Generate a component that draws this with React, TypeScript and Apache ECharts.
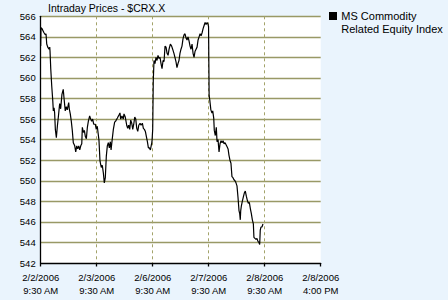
import React, { useEffect, useRef } from "react";
import * as echarts from "echarts";

// trading minutes since 2/2/2006 9:30 AM (390 minutes per trading day)
const minutes = [
  0, 2, 9, 16, 23, 32, 37, 42, 49, 58, 63, 65, 70, 77, 84, 88, 93, 97, 102, 109,
  116, 125, 132, 139, 148, 157, 162, 171, 178, 185, 195, 199, 206, 213, 220, 227,
  237, 244, 251, 258, 265, 272, 279, 286, 290, 297, 304, 311, 318, 325, 332, 341,
  348, 355, 362, 369, 380, 387, 394, 401, 406, 413, 422, 429, 436, 443, 450, 457,
  464, 471, 478, 485, 490, 497, 506, 515, 522, 534, 545, 552, 557, 566, 575, 580,
  589, 599, 606, 613, 620, 627, 634, 641, 648, 655, 662, 669, 676, 683, 692, 699,
  708, 715, 722, 729, 736, 743, 750, 757, 764, 768, 775, 780, 784, 789, 796, 803,
  810, 817, 824, 831, 838, 845, 852, 859, 866, 873, 880, 887, 894, 903, 912, 919,
  928, 935, 942, 949, 956, 963, 970, 977, 984, 991, 998, 1005, 1012, 1019, 1026,
  1033, 1040, 1047, 1054, 1061, 1068, 1075, 1082, 1089, 1096, 1103, 1110, 1117,
  1124, 1131, 1138, 1145, 1152, 1159, 1166, 1169, 1171, 1173, 1178, 1185, 1193,
  1198, 1205, 1209, 1216, 1223, 1228, 1235, 1242, 1249, 1256, 1263, 1270, 1277,
  1284, 1291, 1298, 1305, 1311, 1318, 1325, 1332, 1339, 1346, 1353, 1360, 1367,
  1374, 1381, 1386, 1390, 1393, 1397, 1404, 1411, 1418, 1425, 1432, 1439, 1446,
  1453, 1460, 1467, 1474, 1481, 1485, 1492, 1499, 1506, 1513, 1520, 1525, 1529,
  1534, 1541, 1548,
];

const prices = [
  563.1, 564.9, 564.8, 564.6, 564.4, 564.2, 564.3, 563.3, 563.0, 562.8, 563.0, 562.6,
  560.9, 559.2, 557.8, 556.8, 557.1, 556.6, 555.0, 554.2, 555.3, 556.5, 557.5, 557.0,
  558.4, 558.9, 558.1, 556.8, 557.2, 556.9, 557.6, 557.0, 556.5, 555.8, 554.9, 553.7,
  553.4, 552.8, 553.4, 553.1, 553.4, 553.0, 553.4, 553.6, 555.2, 554.7, 554.9, 554.3,
  554.1, 555.2, 555.8, 556.3, 556.0, 555.8, 556.0, 555.5, 555.5, 555.0, 555.3, 554.5,
  553.9, 551.9, 551.3, 551.5, 550.8, 549.8, 550.3, 552.4, 553.4, 553.7, 553.2, 553.8,
  553.0, 553.9, 555.0, 555.7, 555.8, 556.1, 556.4, 556.6, 556.0, 556.3, 556.0, 556.5,
  556.2, 555.4, 555.1, 555.4, 555.0, 555.9, 555.6, 555.0, 555.5, 556.2, 556.0, 555.1,
  554.8, 555.4, 555.6, 555.4, 555.6, 555.1, 555.0, 554.8, 554.3, 553.8, 553.2, 553.2,
  553.0, 553.0, 553.8, 555.0, 559.7, 561.7, 561.4, 562.0, 561.7, 562.2, 561.9, 562.0,
  561.4, 560.9, 561.7, 561.6, 563.1, 563.0, 562.4, 562.2, 562.8, 563.3, 563.1, 562.8,
  562.4, 562.0, 561.6, 561.0, 561.4, 561.7, 562.4, 562.8, 563.1, 563.8, 564.2, 564.3,
  563.9, 563.7, 564.0, 563.6, 563.1, 562.8, 563.3, 562.4, 562.0, 562.6, 562.8, 563.0,
  563.7, 564.0, 564.3, 564.1, 564.4, 564.8, 565.1, 565.4, 565.2, 565.4, 565.2, 565.0,
  561.5, 558.3, 557.8, 556.9, 556.6, 556.8, 556.1, 554.9, 554.4, 555.2, 553.8, 554.0,
  552.8, 553.6, 553.9, 553.7, 553.9, 553.6, 553.7, 553.5, 553.3, 553.1, 552.5, 552.0,
  551.7, 550.4, 550.3, 550.1, 550.0, 549.8, 549.5, 548.4, 547.1, 546.8, 546.2, 547.1,
  547.5, 548.0, 548.4, 548.8, 549.0, 548.5, 548.1, 547.8, 547.9, 547.3, 546.8, 546.2,
  545.8, 544.5, 544.4, 544.3, 544.4, 544.1, 544.0, 543.8, 545.2, 545.5, 545.5, 545.8,
];

const tickLabels = [
  "2/2/2006\n9:30 AM",
  "2/3/2006\n9:30 AM",
  "2/6/2006\n9:30 AM",
  "2/7/2006\n9:30 AM",
  "2/8/2006\n9:30 AM",
  "2/8/2006\n4:00 PM",
];

const title = "Intraday Prices - $CRX.X";
const seriesName = "MS Commodity\nRelated Equity Index";

const DAY = 390;
const FONT = "'Liberation Sans', Arial, sans-serif";

export default function App() {
  const ref = useRef<HTMLDivElement>(null);

  useEffect(() => {
    if (!ref.current) return;
    const chart = echarts.init(ref.current, null, { renderer: "svg" });
    const data = minutes.map((m, i) => [m, prices[i]]);
    chart.setOption({
      animation: false,
      backgroundColor: "#EAF4FD",
      textStyle: { fontFamily: FONT },
      grid: {
        left: 40.7,
        top: 16.3,
        right: 127.3,
        bottom: 37,
        show: true,
        backgroundColor: "#FFFFFF",
        borderWidth: 0,
      },
      xAxis: {
        type: "value",
        min: 0,
        max: DAY * 5,
        interval: DAY,
        axisLine: { show: true, onZero: false, lineStyle: { color: "#000000", width: 1.3 } },
        axisTick: { show: true, length: 3.5, lineStyle: { color: "#000000", width: 1.3 } },
        axisLabel: {
          color: "#000000",
          fontFamily: FONT,
          fontSize: 9.5,
          lineHeight: 13.3,
          margin: 8,
          showMinLabel: true,
          showMaxLabel: true,
          formatter: (v: number) => tickLabels[Math.round(v / DAY)] ?? "",
        },
        splitLine: {
          show: true,
          showMinLine: false,
          showMaxLine: false,
          lineStyle: { color: "#A3A36A", type: [3, 3], width: 1 },
        },
      },
      yAxis: {
        type: "value",
        min: 542,
        max: 566,
        interval: 2,
        axisLine: { show: true, lineStyle: { color: "#000000", width: 1.3 } },
        axisTick: { show: false },
        axisLabel: {
          color: "#000000",
          fontFamily: FONT,
          fontSize: 9.5,
          margin: 5,
        },
        splitLine: {
          show: true,
          showMinLine: false,
          showMaxLine: true,
          lineStyle: { color: "#999966", width: 1.3 },
        },
      },
      series: [
        {
          name: seriesName,
          type: "line",
          data,
          showSymbol: false,
          symbol: "none",
          lineStyle: { color: "#000000", width: 1.2 },
          z: 5,
        },
      ],
      graphic: [
        {
          type: "text",
          left: 48,
          top: 2,
          style: {
            text: title,
            font: `10.5px ${FONT}`,
            fill: "#000000",
          },
        },
        {
          type: "rect",
          shape: { x: 329, y: 12, width: 8, height: 8 },
          style: { fill: "#000000" },
        },
        {
          type: "text",
          left: 341.3,
          top: 9.5,
          style: {
            text: seriesName,
            font: `11px ${FONT}`,
            lineHeight: 13,
            fill: "#000000",
          },
        },
      ],
    });
    return () => chart.dispose();
  }, []);

  return (
    <div
      ref={ref}
      style={{ position: "fixed", left: 0, top: 0, width: 448, height: 300 }}
    />
  );
}
